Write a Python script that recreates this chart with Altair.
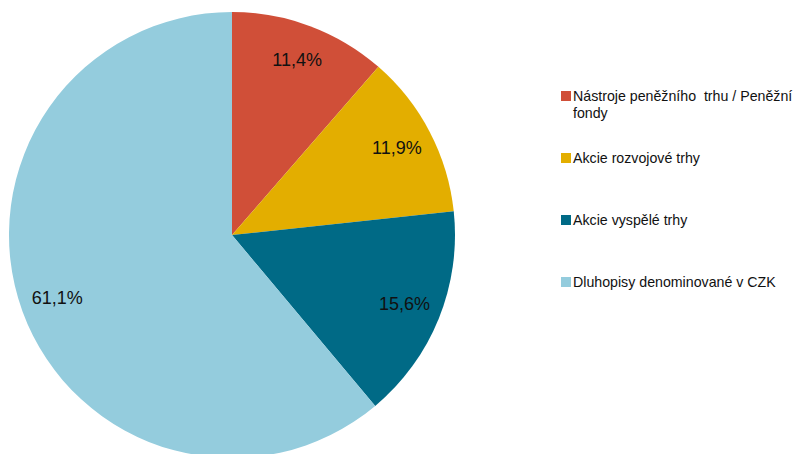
import altair as alt
import pandas as pd

categories = [
    "Nástroje peněžního\u00a0 trhu / Peněžní\nfondy",
    "Akcie rozvojové trhy",
    "Akcie vyspělé trhy",
    "Dluhopisy denominované v CZK",
]
values = [11.4, 11.9, 15.6, 61.1]
colors = ["#D04F38", "#E3AE00", "#006A86", "#94CCDD"]

df = pd.DataFrame({
    "category": categories,
    "value": values,
    "order": list(range(len(categories))),
    "pct": [f"{v:.1f}".replace(".", ",") + "%" for v in values],
})

color_scale = alt.Scale(domain=categories, range=colors)
CX, CY = 224, 227

base = alt.Chart(df)

pie = base.mark_arc(outerRadius=223).encode(
    theta=alt.Theta("value:Q", stack=True),
    order=alt.Order("order:Q"),
    color=alt.Color("category:N", scale=color_scale, legend=None),
    x=alt.value(CX),
    y=alt.value(CY),
)

labels = base.mark_text(
    radius=186, fontSize=18, font="Liberation Sans", color="#111111",
    align="center", baseline="middle",
).encode(
    theta=alt.Theta("value:Q", stack=True),
    order=alt.Order("order:Q"),
    text="pct:N",
    x=alt.value(CX),
    y=alt.value(CY),
)

leg_y = alt.Y("category:N", sort=categories, axis=None,
              scale=alt.Scale(range=[88, 274], padding=0))

leg_sym = base.mark_square(size=100, opacity=1).encode(
    x=alt.value(558),
    y=leg_y,
    color=alt.Color("category:N", scale=color_scale, legend=None),
)

leg_txt = base.mark_text(
    align="left", baseline="line-top", lineBreak="\n", lineHeight=17,
    fontSize=14.2, font="Liberation Sans", color="#111111", dy=-8.5,
).encode(
    x=alt.value(565),
    y=leg_y,
    text="category:N",
)

chart = alt.layer(pie, labels, leg_sym, leg_txt).properties(
    width=790, height=460, padding=0, autosize=alt.AutoSizeParams(type="none"),
).configure_view(stroke=None)

chart.save("out.html", embed_options={"renderer": "svg", "actions": False})
